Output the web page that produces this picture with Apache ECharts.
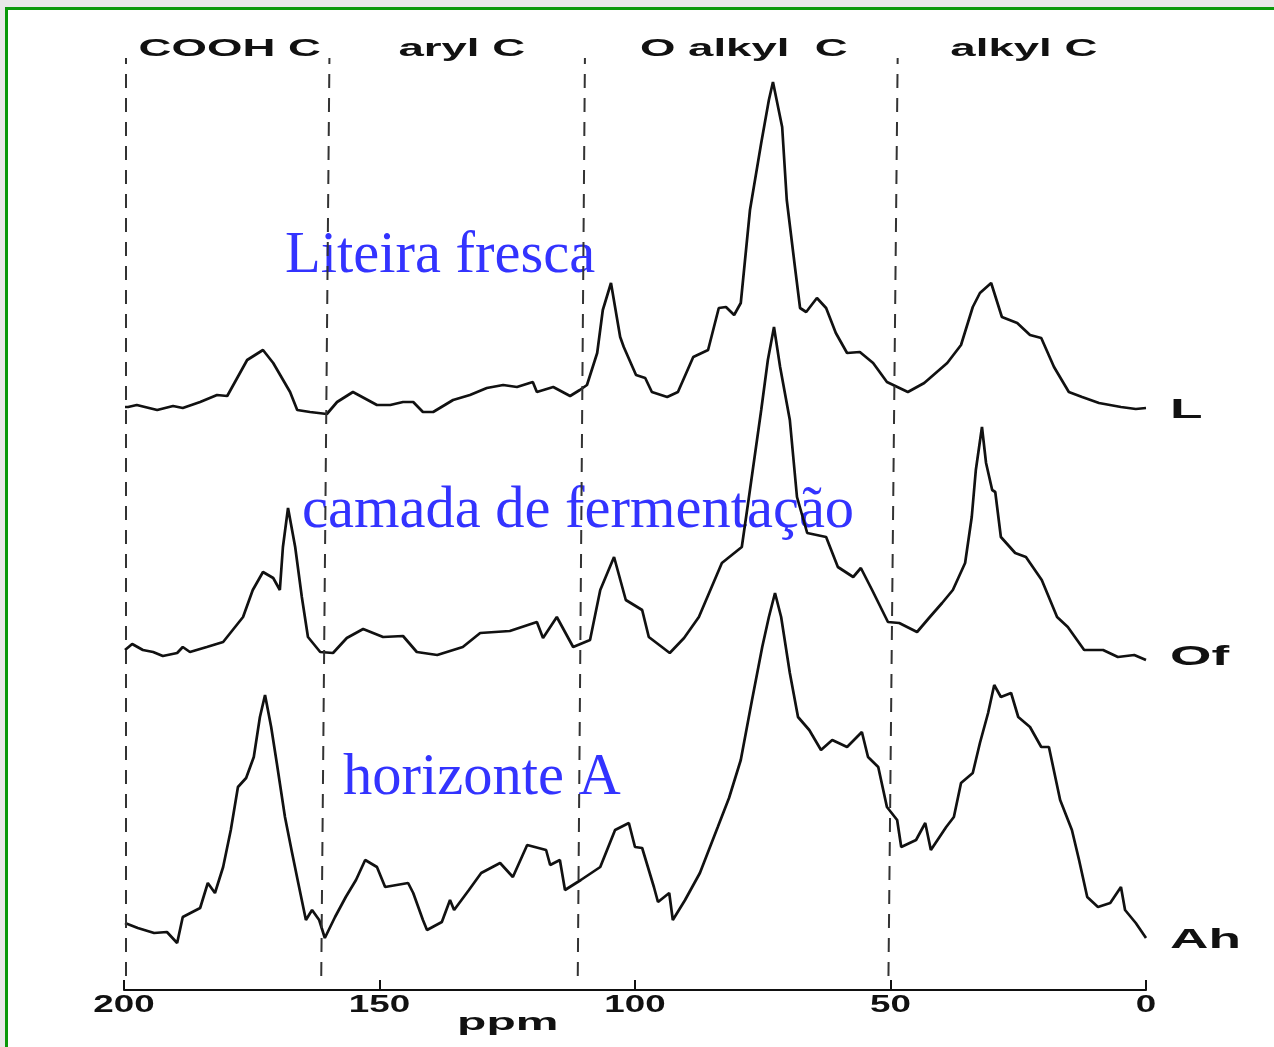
<!DOCTYPE html>
<html>
<head>
<meta charset="utf-8">
<style>
    html, body { margin: 0; padding: 0; }
    #page { position: relative; width: 1274px; height: 1047px; background: #e8e8e8; overflow: hidden; }
    #frame { position: absolute; left: 5px; top: 7px; right: -10px; bottom: -10px; background: #fff;
             border-left: 3px solid #0a990a; border-top: 3px solid #0a990a; }
    #main { position: absolute; left: 0; top: 0; width: 1274px; height: 1047px; }
</style>
</head>
<body>
<div id="page">
    <div id="frame"></div>
    <div id="main"></div>
</div>
<script src="https://cdn.jsdelivr.net/npm/echarts@6/dist/echarts.min.js"></script>
<script type="text/javascript">
    // espectros 13C CPMAS: [ppm, intensidade acima da linha de base]
    var lTrace = [
        [199.8, 1], [199.2, 1], [197.5, 3], [193.5, -2], [190.4, 2], [188.5, 0], [185.1, 6], [181.8, 13],
        [179.8, 12], [175.9, 48], [172.8, 58], [170.8, 45], [167.5, 16], [166.1, -2], [163.6, -4], [160.3, -6],
        [158.3, 6], [155.2, 16], [150.5, 3], [147.9, 3], [145.4, 6], [143.4, 6], [141.5, -4], [139.5, -4],
        [135.6, 8], [132.3, 13], [129.0, 20], [125.8, 23], [123.1, 21], [120.0, 26], [119.2, 16], [116.0, 21],
        [112.7, 12], [110.8, 18], [109.4, 23], [107.4, 55], [106.3, 98], [104.7, 125], [102.9, 71], [102.2, 61],
        [99.8, 33], [98.0, 30], [96.7, 16], [93.7, 11], [91.6, 16], [88.6, 51], [85.7, 58], [83.6, 100],
        [82.2, 101], [80.6, 93], [79.3, 105], [77.5, 198], [75.3, 265], [73.8, 308], [73.0, 326], [71.2, 281],
        [70.3, 208], [68.7, 141], [67.7, 100], [66.5, 96], [64.4, 110], [62.6, 100], [60.7, 75], [58.5, 55],
        [56.0, 56], [53.4, 45], [50.7, 26], [46.6, 16], [43.4, 25], [38.9, 45], [36.2, 63], [33.9, 101],
        [32.5, 115], [30.3, 125], [28.2, 91], [25.2, 85], [22.7, 73], [20.5, 70], [18.0, 41], [15.1, 16],
        [12.5, 11], [9.2, 5], [4.9, 1], [2.0, -1], [0, 0]
    ];
    var ofTrace = [
        [199.8, 5], [198.4, 11], [196.3, 5], [194.3, 3], [192.4, -1], [189.6, 2], [188.5, 8], [187.1, 3],
        [183.8, 8], [180.6, 13], [176.7, 38], [174.8, 65], [172.8, 83], [170.8, 77], [169.5, 65], [168.9, 108],
        [167.9, 147], [166.5, 108], [165.2, 58], [164.0, 18], [161.6, 3], [159.1, 2], [156.4, 17], [153.2, 26],
        [149.3, 18], [145.4, 19], [142.7, 3], [138.7, 0], [133.7, 8], [130.3, 22], [124.5, 24], [119.2, 33],
        [118.0, 17], [115.3, 38], [112.1, 8], [108.8, 15], [106.8, 65], [104.1, 98], [101.8, 55], [98.6, 45],
        [97.3, 18], [93.2, 2], [90.4, 17], [87.5, 38], [83.0, 92], [79.1, 108], [77.7, 158], [75.3, 245],
        [74.0, 295], [72.8, 328], [71.6, 288], [69.7, 235], [68.3, 158], [66.3, 122], [62.6, 118], [60.3, 88],
        [57.3, 78], [55.8, 87], [53.6, 65], [50.5, 33], [48.3, 32], [44.8, 23], [42.3, 38], [39.9, 52],
        [37.8, 65], [35.4, 92], [34.1, 138], [33.3, 185], [32.1, 228], [31.3, 192], [30.1, 165], [29.5, 163],
        [28.4, 118], [25.6, 102], [23.5, 98], [20.4, 75], [17.4, 38], [15.3, 28], [12.1, 5], [8.4, 5],
        [5.5, -2], [2.3, 0], [0, -5]
    ];
    var ahTrace = [
        [199.8, 15], [197.3, 10], [194.1, 5], [191.6, 6], [189.6, -5], [188.5, 21], [185.1, 30], [183.6, 55],
        [182.2, 45], [180.6, 71], [179.1, 108], [177.7, 151], [176.1, 160], [174.6, 181], [173.4, 221], [172.4, 243],
        [171.2, 211], [170.1, 175], [168.5, 121], [167.1, 85], [165.9, 55], [164.4, 18], [163.2, 28], [161.8, 18],
        [160.7, 0], [158.7, 21], [156.6, 41], [154.6, 58], [152.8, 78], [150.5, 71], [148.9, 51], [144.4, 55],
        [143.4, 45], [141.5, 18], [140.7, 8], [137.8, 16], [136.2, 38], [135.4, 28], [132.5, 48], [130.1, 65],
        [126.4, 75], [123.9, 61], [121.1, 93], [117.4, 88], [116.6, 73], [114.7, 78], [113.7, 48], [110.6, 58],
        [106.8, 71], [103.9, 108], [101.2, 115], [100.0, 91], [98.6, 90], [96.3, 51], [95.5, 36], [93.3, 45],
        [92.6, 18], [90.2, 38], [87.3, 65], [83.8, 111], [81.6, 140], [79.3, 178], [77.1, 238], [75.1, 291],
        [73.8, 321], [72.6, 345], [71.4, 321], [69.7, 265], [68.1, 221], [65.9, 208], [63.6, 188], [61.4, 198],
        [58.5, 191], [55.6, 206], [54.4, 181], [52.4, 171], [50.7, 131], [48.7, 118], [47.9, 91], [45.0, 98],
        [43.2, 115], [42.1, 88], [39.1, 111], [37.6, 121], [36.2, 155], [33.9, 165], [32.5, 195], [30.9, 225],
        [29.7, 253], [28.4, 241], [26.4, 245], [25.0, 221], [22.7, 211], [20.5, 191], [19.0, 191], [16.8, 138],
        [14.5, 108], [13.1, 78], [11.5, 41], [9.4, 31], [7.0, 35], [4.9, 51], [4.1, 28], [2.0, 15], [0, 0]
    ];
    var traceNames = ['L', 'Of', 'Ah'];
    var traceOffsets = [582, 335, 52];   // deslocamento vertical de cada espectro

    var tickValues = [200, 150, 100, 50, 0];
    var regionNames = ['COOH C', 'aryl C', 'O alkyl  C', 'alkyl C'];
    var regionCenters = [179.3, 133.9, 78.7, 23.9];
    // limites das regiões (linhas tracejadas), em cima e em baixo
    var boundaryTop = [199.6, 159.8, 109.8, 48.6, -0.2];
    var boundaryBottom = [199.6, 161.4, 111.2, 50.4, -0.2];

    var myChart = echarts.init(document.getElementById('main'), null, {renderer: 'canvas'});

    var traces = [lTrace, ofTrace, ahTrace];
    var series = traces.map(function (tr, i) {
        return {
            name: traceNames[i],
            type: 'line',
            symbol: 'none',
            silent: true,
            lineStyle: {color: '#111', width: 2.7},
            data: tr.map(function (p) { return [p[0], p[1] + traceOffsets[i]]; })
        };
    });

    // linhas tracejadas entre as regiões
    series[0].markLine = {
        silent: true,
        symbol: ['none', 'none'],
        label: {show: false},
        lineStyle: {color: '#333', width: 2, type: [14, 10]},
        data: boundaryTop.map(function (t, i) {
            return [{coord: [boundaryBottom[i], 14]}, {coord: [t, 932]}];
        })
    };

    // texto "esticado" (como na figura original)
    function stretchedText(items, opts) {
        return {
            type: 'custom',
            silent: true,
            clip: false,
            data: items.map(function (it) { return [it[0], it[1]]; }),
            renderItem: function (params, api) {
                var p = api.coord([api.value(0), api.value(1)]);
                return {
                    type: 'text',
                    x: p[0],
                    y: p[1] + opts.dy,
                    scaleX: opts.scaleX,
                    style: {
                        text: items[params.dataIndex][2],
                        fontFamily: 'Liberation Sans, Arial, sans-serif',
                        fontWeight: 'bold',
                        fontSize: opts.fontSize,
                        fill: '#111',
                        align: opts.align,
                        verticalAlign: 'middle'
                    }
                };
            }
        };
    }

    series.push(stretchedText(tickValues.map(function (v) { return [v, 0, String(v)]; }),
        {dy: 16, scaleX: 1.6, fontSize: 23, align: 'center'}));
    series.push(stretchedText([[124.9, 0, 'ppm']],
        {dy: 33, scaleX: 2.0, fontSize: 24, align: 'center'}));
    series.push(stretchedText(regionNames.map(function (n, i) { return [regionCenters[i], 941, n]; }),
        {dy: 0, scaleX: 1.9, fontSize: 24, align: 'center'}));
    series.push(stretchedText(traceNames.map(function (n, i) { return [-4.7, traceOffsets[i], n]; }),
        {dy: 2, scaleX: 1.9, fontSize: 28, align: 'left'}));

    var blue = '#3333ff';
    var serif = 'Liberation Serif, Times New Roman, serif';
    var option = {
        animation: false,
        backgroundColor: 'transparent',
        grid: {left: 124, right: 128, top: 30, bottom: 57},
        xAxis: {
            type: 'value',
            inverse: true,
            min: 0,
            max: 200,
            interval: 50,
            axisLine: {lineStyle: {color: '#111', width: 2}},
            axisTick: {inside: true, length: 10, lineStyle: {color: '#111', width: 2}},
            axisLabel: {show: false},
            splitLine: {show: false}
        },
        yAxis: {
            type: 'value',
            min: 0,
            max: 960,
            show: false,
            splitLine: {show: false}
        },
        graphic: [
            {type: 'text', x: 285, y: 257, silent: true,
                style: {text: 'Liteira fresca', fontFamily: serif, fontSize: 58.5, fill: blue, verticalAlign: 'middle'}},
            {type: 'text', x: 302, y: 512, silent: true,
                style: {text: 'camada de fermentação', fontFamily: serif, fontSize: 58.5, fill: blue, verticalAlign: 'middle'}},
            {type: 'text', x: 343, y: 779, silent: true,
                style: {text: 'horizonte A', fontFamily: serif, fontSize: 58.5, fill: blue, verticalAlign: 'middle'}}
        ],
        series: series
    };

    myChart.setOption(option);
</script>
</body>
</html>
